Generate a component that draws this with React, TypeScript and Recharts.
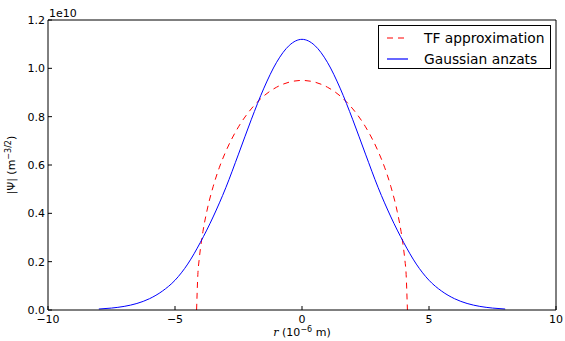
import { Legend, Line, LineChart, XAxis, YAxis } from "recharts";

// |Psi| in units of 1e10 m^-3/2, r in 1e-6 m
const rTF = [-4.15, -4.1, -4.05, -4.0, -3.9, -3.75, -3.5, -3.25, -3.0, -2.5, -2.0, -1.5, -1.0, -0.5, 0,
  0.5, 1.0, 1.5, 2.0, 2.5, 3.0, 3.25, 3.5, 3.75, 3.9, 4.0, 4.05, 4.1, 4.15];
const psiTF = [0, 0.147, 0.207, 0.253, 0.325, 0.407, 0.51, 0.591, 0.656, 0.758, 0.832, 0.886, 0.922, 0.943, 0.95,
  0.943, 0.922, 0.886, 0.832, 0.758, 0.656, 0.591, 0.51, 0.407, 0.325, 0.253, 0.207, 0.147, 0];

const rGauss = [-8, -7.5, -7, -6.5, -6, -5.5, -5, -4.5, -4, -3.5, -3, -2.5, -2, -1.5, -1, -0.5, 0,
  0.5, 1, 1.5, 2, 2.5, 3, 3.5, 4, 4.5, 5, 5.5, 6, 6.5, 7, 7.5, 8];
const psiGauss = [0.004, 0.008, 0.015, 0.027, 0.047, 0.078, 0.123, 0.19, 0.28, 0.385, 0.506, 0.645, 0.787, 0.918, 1.025, 1.095, 1.12,
  1.095, 1.025, 0.918, 0.787, 0.645, 0.506, 0.385, 0.28, 0.19, 0.123, 0.078, 0.047, 0.027, 0.015, 0.008, 0.004];

const xTicks = [-10, -5, 0, 5, 10];
const yTicks = [0, 0.2, 0.4, 0.6, 0.8, 1.0, 1.2];

const tfData = rTF.map((r, i) => ({ r, psi: psiTF[i] }));
const gaussData = rGauss.map((r, i) => ({ r, psi: psiGauss[i] }));

const FONT = "'DejaVu Sans', sans-serif";
const TF_DASH = "6 5";

const series = [
  { name: "TF approximation", color: "#ff0000", dash: TF_DASH },
  { name: "Gaussian anzats", color: "#0000ff", dash: undefined },
];

const fmtX = (v: number) => (v < 0 ? "\u2212" + Math.abs(v) : String(v));

const BottomTick = ({ x, y, payload }: any) => (
  <g>
    <line x1={x} x2={x} y1={y} y2={y - 4} stroke="#000" />
    <text x={x} y={y + 13} textAnchor="middle" fontSize={11} fontFamily={FONT} fill="#000">
      {fmtX(payload.value)}
    </text>
  </g>
);

const TopTick = ({ x, y }: any) => <line x1={x} x2={x} y1={y} y2={y + 4} stroke="#000" />;

const LeftTick = ({ x, y, payload }: any) => (
  <g>
    <line x1={x} x2={x + 4} y1={y} y2={y} stroke="#000" />
    <text x={x - 3} y={y + 4} textAnchor="end" fontSize={11} fontFamily={FONT} fill="#000">
      {payload.value.toFixed(1)}
    </text>
  </g>
);

const RightTick = ({ x, y }: any) => <line x1={x} x2={x - 4} y1={y} y2={y} stroke="#000" />;

const XLabel = ({ viewBox }: any) => (
  <text x={viewBox.x + viewBox.width / 2} y={viewBox.y + 26} textAnchor="middle" fontSize={11} fontFamily={FONT} fill="#000">
    <tspan fontStyle="italic" fontFamily="'DejaVu Serif', serif">r</tspan>
    <tspan> (10</tspan>
    <tspan dy={-4} fontSize={8}>{"\u22126"}</tspan>
    <tspan dy={4}> m)</tspan>
  </text>
);

const YLabel = ({ viewBox }: any) => {
  const cx = 15;
  const cy = viewBox.y + viewBox.height / 2;
  return (
    <text x={cx} y={cy} transform={`rotate(-90 ${cx} ${cy})`} textAnchor="middle" fontSize={11} fontFamily={FONT} fill="#000">
      <tspan>|Ψ| (m</tspan>
      <tspan dy={-4} fontSize={8}>{"\u22123/2"}</tspan>
      <tspan dy={4}>)</tspan>
    </text>
  );
};

const OffsetLabel = ({ viewBox }: any) => (
  <text x={viewBox.x + 1} y={17} fontSize={11} fontFamily={FONT} fill="#000">
    1e10
  </text>
);

const LegendBox = () => (
  <div
    style={{
      position: "relative",
      width: 173,
      height: 44,
      border: "1px solid #000",
      background: "#fff",
      boxSizing: "border-box",
      fontFamily: FONT,
      fontSize: 13.8,
      color: "#000",
    }}
  >
    {series.map((s, i) => (
      <div key={s.name} style={{ position: "absolute", left: 8, top: 3 + i * 21, height: 18, display: "flex", alignItems: "center", whiteSpace: "nowrap" }}>
        <svg width={21} height={10} style={{ display: "block" }}>
          <line x1={0} x2={21} y1={5} y2={5} stroke={s.color} strokeWidth={1.2} strokeDasharray={s.dash} />
        </svg>
        <span style={{ marginLeft: 16 }}>{s.name}</span>
      </div>
    ))}
  </div>
);

export default function App() {
  return (
    <div style={{ position: "fixed", left: 0, top: 0, width: 565, height: 341, background: "#fff" }}>
      <LineChart width={565} height={341} margin={{ top: 0, right: 0, bottom: 0, left: 0 }}>
        <XAxis
          dataKey="r"
          type="number"
          domain={[-10, 10]}
          ticks={xTicks}
          interval={0}
          height={31}
          tickSize={0}
          tickMargin={0}
          tickLine={false}
          tick={<BottomTick />}
          axisLine={{ stroke: "#000" }}
          label={<XLabel />}
        />
        <XAxis
          xAxisId="top"
          orientation="top"
          dataKey="r"
          type="number"
          domain={[-10, 10]}
          ticks={xTicks}
          interval={0}
          height={20}
          tickSize={0}
          tickMargin={0}
          tickLine={false}
          tick={<TopTick />}
          axisLine={{ stroke: "#000" }}
          label={<OffsetLabel />}
        />
        <YAxis
          type="number"
          domain={[0, 1.2]}
          ticks={yTicks}
          interval={0}
          width={48}
          tickSize={0}
          tickMargin={0}
          tickLine={false}
          tick={<LeftTick />}
          axisLine={{ stroke: "#000" }}
          label={<YLabel />}
        />
        <YAxis
          yAxisId="right"
          orientation="right"
          type="number"
          domain={[0, 1.2]}
          ticks={yTicks}
          interval={0}
          width={9}
          tickSize={0}
          tickMargin={0}
          tickLine={false}
          tick={<RightTick />}
          axisLine={{ stroke: "#000" }}
        />
        <Legend
          layout="horizontal"
          verticalAlign="middle"
          align="center"
          content={<LegendBox />}
          wrapperStyle={{ position: "absolute", left: 378, top: 25, width: 173, height: 44 }}
        />
        <Line
          data={tfData}
          dataKey="psi"
          name={series[0].name}
          type="monotone"
          stroke={series[0].color}
          strokeWidth={1}
          strokeDasharray={TF_DASH}
          dot={false}
          activeDot={false}
          isAnimationActive={false}
        />
        <Line
          data={gaussData}
          dataKey="psi"
          name={series[1].name}
          type="monotone"
          stroke={series[1].color}
          strokeWidth={1}
          dot={false}
          activeDot={false}
          isAnimationActive={false}
        />
      </LineChart>
    </div>
  );
}
